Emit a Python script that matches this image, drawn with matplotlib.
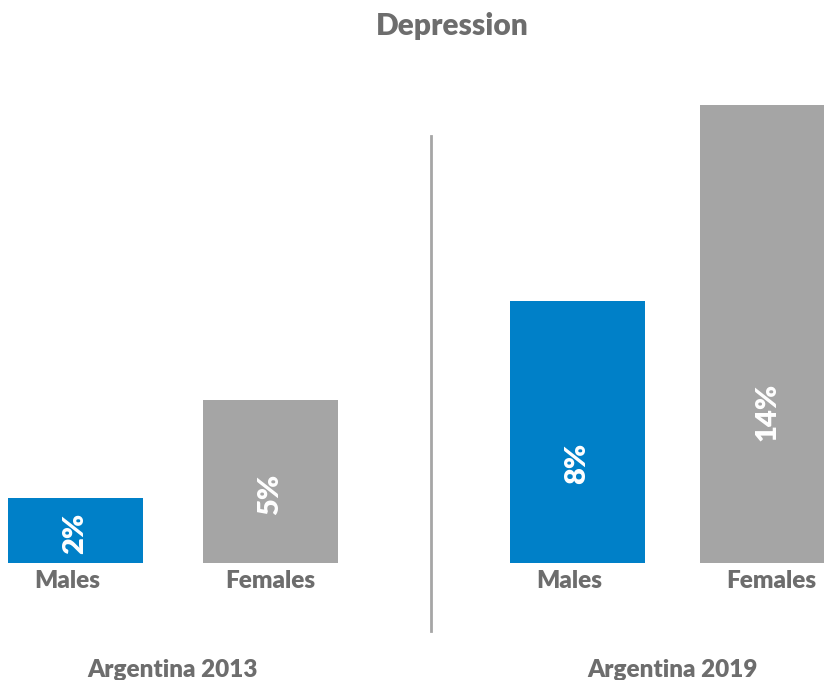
import matplotlib.pyplot as plt
from matplotlib.lines import Line2D

plt.rcParams['font.family'] = ['Lato', 'DejaVu Sans']

# Share of people with depression, by survey year and sex
groups = ['Argentina 2013', 'Argentina 2019']
sexes = ['Males', 'Females']
values = [[2, 5], [8, 14]]
value_labels = [['2%', '5%'], ['8%', '14%']]

BLUE = '#0080c8'
GREY = '#a5a5a5'
TEXT = '#6d6d6d'

# layout (in pixel-like x units)
group_start = [75.5, 577.5]
bar_step = [195, 190]
bar_width = 135
label_frac = [[0.46, 0.42], [0.38, 0.33]]

fig = plt.figure(figsize=(8.24, 6.8), dpi=100)
ax = fig.add_axes([0, 117 / 680, 1, 490.5 / 680])
ax.set_xlim(0, 824)
ax.set_ylim(0, 15)
ax.axis('off')

colors = [BLUE, GREY]
for g, group in enumerate(groups):
    xs = [group_start[g] + i * bar_step[g] for i in range(len(sexes))]
    for i, sex in enumerate(sexes):
        v = values[g][i]
        ax.bar(xs[i], v, width=bar_width, color=colors[i], clip_on=False)
        ax.text(xs[i], v * label_frac[g][i], value_labels[g][i], rotation=90,
                ha='center', va='center', color='white', fontsize=21,
                fontweight='heavy')
        ax.text(xs[i] - 8 * (i == 0) + 4 * (g == 1 and i == 1), -0.56, sex,
                ha='center', va='center', color=TEXT, fontsize=17.5,
                fontweight='heavy')
    ax.text(sum(xs) / len(xs), -3.27, group, ha='center', va='center',
            color=TEXT, fontsize=17.5, fontweight='heavy')

# divider between the two surveys
fig.add_artist(Line2D([431 / 824, 431 / 824], [1 - 136 / 680, 1 - 631 / 680],
                      color='#a6a6a6', linewidth=2))

fig.text(452 / 824, 1 - 26 / 680, 'Depression', ha='center', va='center',
         color=TEXT, fontsize=21.5, fontweight='heavy')

fig.savefig('out.png', dpi=100)
